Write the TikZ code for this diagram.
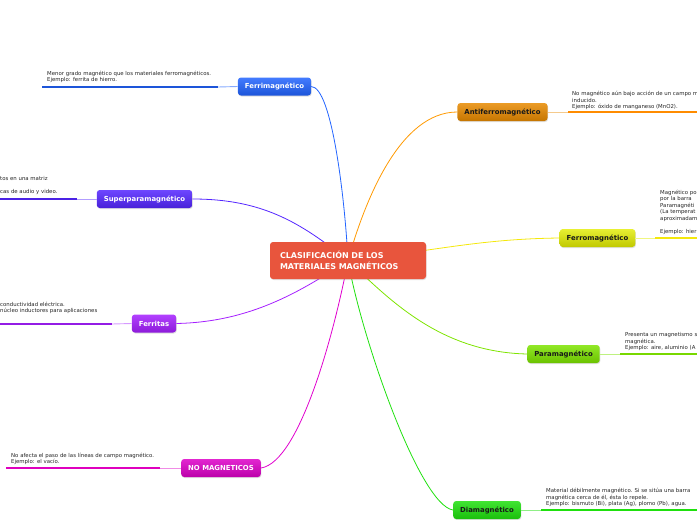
\documentclass[tikz,border=0pt]{standalone}
\usepackage{fontspec}
\setmainfont{DejaVu Sans}
\usetikzlibrary{backgrounds,shadows}
\newcommand{\noteFont}{\fontsize{5.4}{6.6}\selectfont}
\definecolor{rootRed}{HTML}{E8553D}
\definecolor{ferriBlue}{HTML}{2264FF}
\definecolor{superViolet}{HTML}{5426FF}
\definecolor{ferritPurple}{HTML}{A51FFF}
\definecolor{nomagPink}{HTML}{DD00C8}
\definecolor{antiOrange}{HTML}{E88A00}
\definecolor{ferroYellow}{HTML}{E2EC00}
\definecolor{paraGreen}{HTML}{7EE400}
\definecolor{diaGreen}{HTML}{1FE00E}

\begin{document}
\begin{tikzpicture}[x=1pt,y=-1pt,
  topic/.style={rounded corners=3pt, text=white, font={\fontsize{6.9}{8}\selectfont\bfseries},
    inner xsep=7pt, minimum height=18pt, drop shadow={shadow xshift=0.6pt, shadow yshift=-1pt, opacity=0.25}},
  note/.style={anchor=south west, inner sep=0pt, align=left, text=black!85, font=\noteFont},
  bar/.style={line width=2.4pt},
  stub/.style={line width=0.9pt},
  link/.style={line width=0.8pt}]
\useasboundingbox (0,0) rectangle (697,520);
\clip (0,0) rectangle (697,520);
% centre
\node[rounded corners=3pt, fill=rootRed, text=white, font={\fontsize{8}{11}\selectfont\bfseries}, align=left,
  minimum width=156pt, minimum height=37pt, inner xsep=10pt, text width=136pt,
  drop shadow={shadow xshift=0.6pt, shadow yshift=-1pt, opacity=0.25}] (root) at (348,260.5)
  {CLASIFICACIÓN DE LOS\\MATERIALES MAGNÉTICOS};
% left side
\node[topic, top color=ferriBlue!85!white, bottom color=ferriBlue!85!black] (ferri) at (274.5,86.5) {Ferrimagnético};
\coordinate (ferri-a) at (218,87);
\coordinate (ferri-b) at (42,87);
\node[note] (ferri-txt) at (47,83) {Menor grado magnético que los materiales ferromagnéticos.\\Ejemplo: ferrita de hierro.};
\node[topic, top color=superViolet!85!white, bottom color=superViolet!85!black] (super) at (144.5,199) {Superparamagnético};
\coordinate (super-a) at (77,199);
\coordinate (super-b) at (0,199);
\node[note] (super-txt) at (0,195) {tos en una matriz\\\mbox{}\\cas de audio y video.};
\node[topic, top color=ferritPurple!85!white, bottom color=ferritPurple!85!black] (ferrit) at (154,323.5) {Ferritas};
\coordinate (ferrit-a) at (112,324);
\coordinate (ferrit-b) at (0,324);
\node[note] (ferrit-txt) at (0,314) {conductividad eléctrica.\\ núcleo inductores para aplicaciones};
\node[topic, top color=nomagPink!85!white, bottom color=nomagPink!85!black] (nomag) at (221,468) {NO MAGNETICOS};
\coordinate (nomag-a) at (160,468);
\coordinate (nomag-b) at (6,468);
\node[note] (nomag-txt) at (11,465) {No afecta el paso de las líneas de campo magnético.\\Ejemplo: el vacío.};
% right side
\node[topic, text=black!90, top color=antiOrange!85!white, bottom color=antiOrange!85!black] (anti) at (502.5,112) {Antiferromagnético};
\coordinate (anti-a) at (568,112);
\coordinate (anti-b) at (697,112);
\node[note] (anti-txt) at (572,110) {No magnético aún bajo acción de un campo m\\inducido.\\Ejemplo: óxido de manganeso (MnO2).};
\node[topic, text=black!90, top color=ferroYellow!80!white, bottom color=ferroYellow!85!black] (ferro) at (597.5,238) {Ferromagnético};
\coordinate (ferro-a) at (655,238);
\coordinate (ferro-b) at (697,238);
\node[note] (ferro-txt) at (660,235) {Magnético po\\por la barra\\Paramagnéti\\(La temperat\\aproximadam\\\mbox{}\\Ejemplo: hier};
\node[topic, text=black!90, top color=paraGreen!85!white, bottom color=paraGreen!85!black] (para) at (563.5,354) {Paramagnético};
\coordinate (para-a) at (620,354);
\coordinate (para-b) at (697,354);
\node[note] (para-txt) at (625,351) {Presenta un magnetismo s\\magnética.\\Ejemplo: aire, aluminio (A};
\node[topic, text=black!90, top color=diaGreen!85!white, bottom color=diaGreen!85!black] (dia) at (487,510) {Diamagnético};
\coordinate (dia-a) at (541,510);
\coordinate (dia-b) at (697,510);
\node[note] (dia-txt) at (546,507) {Material débilmente magnético. Si se sitúa una barra\\magnética cerca de él, ésta lo repele.\\Ejemplo: bismuto (Bi), plata (Ag), plomo (Pb), agua.};
% connectors
\begin{scope}[on background layer]
\draw[link, ferriBlue] (ferri.east) .. controls (332,87) and (345,200) .. (root.center);
\draw[link, superViolet] (super.east) .. controls (262,199) and (300,222) .. (root.center);
\draw[link, ferritPurple] (ferrit.east) .. controls (250,322) and (300,292) .. (root.center);
\draw[link, nomagPink!90!magenta] (nomag.east) .. controls (300,462) and (335,330) .. (root.center);
\draw[link, orange!80!yellow] (anti.west) .. controls (400,112) and (365,200) .. (root.center);
\draw[link, yellow!95!black] (ferro.west) .. controls (480,239) and (440,250) .. (root.center);
\draw[link, paraGreen] (para.west) .. controls (440,352) and (390,300) .. (root.center);
\draw[link, diaGreen] (dia.west) .. controls (420,505) and (362,340) .. (root.center);
\end{scope}
\draw[stub, ferriBlue!55] (ferri.west) -- (ferri-a);
\draw[bar, ferriBlue!85!black] (ferri-a) -- (ferri-b);
\draw[stub, superViolet!45] (super.west) -- (super-a);
\draw[bar, superViolet!90!black] (super-a) -- (super-b);
\draw[stub, ferritPurple!45] (ferrit.west) -- (ferrit-a);
\draw[bar, ferritPurple!90!black] (ferrit-a) -- (ferrit-b);
\draw[stub, nomagPink!45] (nomag.west) -- (nomag-a);
\draw[bar, nomagPink!95!red] (nomag-a) -- (nomag-b);
\draw[stub, antiOrange!45] (anti.east) -- (anti-a);
\draw[bar, orange!90!yellow] (anti-a) -- (anti-b);
\draw[stub, ferroYellow!50] (ferro.east) -- (ferro-a);
\draw[bar, yellow!95!black] (ferro-a) -- (ferro-b);
\draw[stub, paraGreen!50] (para.east) -- (para-a);
\draw[bar, paraGreen!95!black] (para-a) -- (para-b);
\draw[stub, diaGreen!50] (dia.east) -- (dia-a);
\draw[bar, diaGreen] (dia-a) -- (dia-b);
\end{tikzpicture}
\end{document}
